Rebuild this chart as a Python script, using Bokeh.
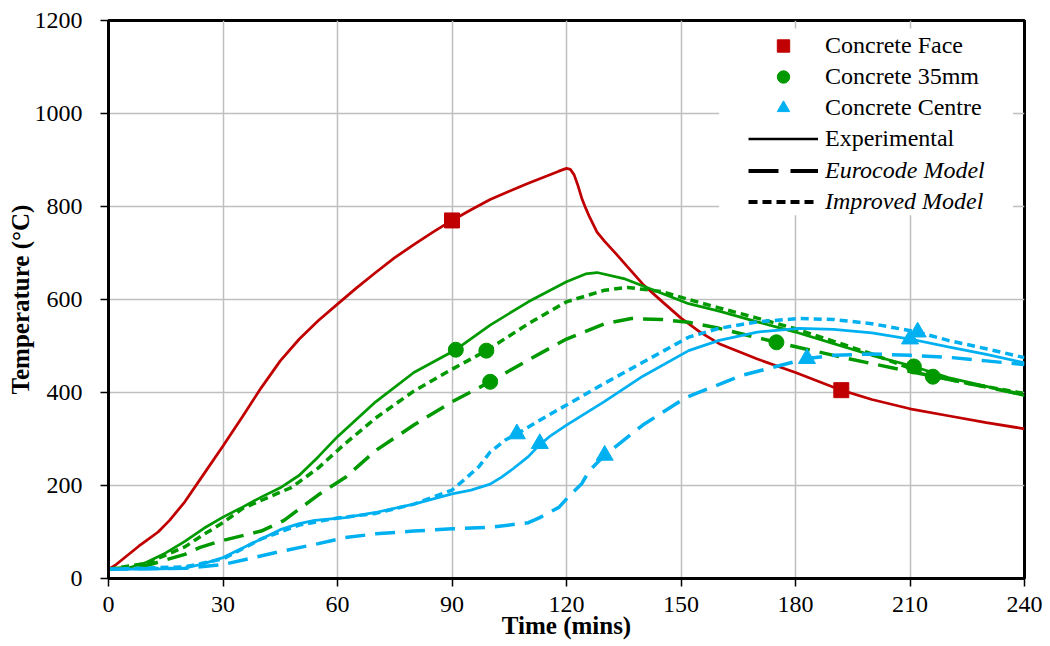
from bokeh.plotting import figure
from bokeh.models import Range1d, FixedTicker, Legend, LegendItem, ColumnDataSource, BoxAnnotation
from bokeh.embed import file_html
from bokeh.resources import INLINE

# ---------------- data ----------------
face_exp_t = [0, 2, 5, 8, 10, 13, 16, 20, 25, 30, 35, 40, 45, 50, 55, 60, 65, 70, 75, 80, 85, 90, 95, 100, 105, 110, 115, 118, 120, 121, 122, 123, 124, 125, 126, 128, 130, 133, 136, 140, 145, 150, 155, 160, 170, 180, 192, 200, 210, 220, 230, 240]
face_exp_y = [20, 30, 50, 70, 82, 100, 125, 165, 225, 285, 347, 410, 468, 515, 555, 590, 625, 658, 690, 718, 745, 770, 793, 815, 833, 850, 866, 876, 882, 880, 868, 845, 818, 797, 778, 745, 725, 698, 670, 633, 596, 560, 530, 505, 472, 443, 405, 385, 365, 350, 335, 322]

d35_exp_t = [0, 5, 10, 15, 20, 25, 30, 35, 40, 45, 50, 55, 60, 70, 80, 91, 100, 110, 120, 125, 128, 135, 152, 160, 170, 180, 190, 200, 211, 220, 230, 240]
d35_exp_y = [20, 22, 35, 55, 80, 108, 132, 153, 175, 195, 222, 262, 305, 380, 443, 492, 545, 595, 638, 655, 658, 645, 591, 575, 552, 530, 505, 480, 456, 432, 413, 393]

d35_ec_t = [0, 10, 20, 24, 30, 40, 46, 55, 62, 70, 80, 90, 100, 110, 120, 130, 137, 145, 152, 160, 170, 175, 192, 210, 225, 240]
d35_ec_y = [20, 28, 52, 67, 82, 102, 125, 180, 217, 275, 330, 380, 423, 470, 515, 548, 559, 557, 551, 538, 518, 508, 476, 445, 420, 395]

d35_imp_t = [0, 10, 20, 25, 30, 35, 42, 48, 55, 62, 70, 80, 90, 99, 110, 120, 130, 136, 145, 152, 160, 170, 180, 190, 200, 210, 216, 225, 240]
d35_imp_y = [20, 33, 68, 95, 120, 150, 175, 196, 238, 290, 345, 403, 450, 490, 548, 595, 620, 626, 617, 600, 582, 560, 537, 510, 483, 452, 436, 420, 398]

ctr_exp_t = [0, 10, 20, 25, 30, 35, 40, 45, 50, 54, 62, 70, 80, 90, 95, 100, 103, 106, 110, 113, 116, 120, 130, 140, 152, 160, 170, 181, 190, 200, 210, 220, 230, 240]
ctr_exp_y = [20, 20, 22, 32, 45, 65, 85, 105, 118, 125, 131, 142, 160, 182, 190, 203, 218, 236, 262, 288, 308, 330, 381, 435, 490, 512, 530, 538, 536, 528, 515, 498, 482, 464]

ctr_ec_t = [0, 20, 30, 37, 45, 55, 62, 70, 80, 90, 100, 110, 113, 118, 121, 124, 126, 130, 140, 151, 154, 166, 183, 190, 200, 210, 221, 230, 240]
ctr_ec_y = [20, 22, 30, 43, 58, 75, 88, 96, 102, 107, 110, 120, 131, 153, 180, 204, 232, 265, 330, 388, 398, 437, 473, 480, 483, 480, 475, 468, 460]

ctr_imp_t = [0, 20, 30, 40, 50, 60, 70, 80, 90, 93, 97, 100, 104, 107, 115, 120, 130, 140, 152, 160, 170, 181, 190, 200, 212, 220, 230, 240]
ctr_imp_y = [20, 25, 42, 85, 115, 130, 140, 160, 190, 211, 240, 272, 298, 311, 350, 373, 420, 465, 519, 538, 552, 559, 557, 548, 530, 512, 494, 475]

face_mark_t = [90, 192]
face_mark_y = [770, 405]
d35_mark_t = [91, 99, 100, 175, 211, 216]
d35_mark_y = [492, 490, 423, 508, 456, 434]
ctr_mark_t = [107, 113, 130, 183, 210, 212]
ctr_mark_y = [311, 290, 265, 473, 515, 530]

x_ticks = [0, 30, 60, 90, 120, 150, 180, 210, 240]
y_ticks = [0, 200, 400, 600, 800, 1000, 1200]

legend_marker_labels = ["Concrete Face", "Concrete 35mm", "Concrete Centre", "Experimental"]
legend_model_labels = ["Eurocode Model", "Improved Model"]

# ---------------- style ----------------
RED = "#C00000"
GREEN = "#009900"
BLUE = "#00B0F0"
FONT = "Liberation Serif"
EC_DASH = "20 10"
IMP_DASH = "8 5"

p = figure(width=1050, height=646, output_backend="svg", toolbar_location=None,
           x_range=Range1d(0, 240), y_range=Range1d(0, 1200))
p.min_border_left = 108
p.min_border_right = 26
p.min_border_top = 20
p.min_border_bottom = 68
p.background_fill_color = "white"
p.border_fill_color = "white"
p.outline_line_color = "black"
p.outline_line_width = 3

for ax in (p.xaxis[0], p.yaxis[0]):
    ax.axis_line_width = 3
    ax.axis_line_color = "black"
    ax.major_tick_line_color = "black"
    ax.major_tick_line_width = 1.5
    ax.major_tick_in = 0
    ax.major_tick_out = 8
    ax.minor_tick_line_color = None
    ax.major_label_text_font = FONT
    ax.major_label_text_font_size = "24px"
    ax.major_label_text_color = "black"
    ax.axis_label_text_font = FONT
    ax.axis_label_text_font_size = "25px"
    ax.axis_label_text_font_style = "bold"
    ax.axis_label_text_color = "black"

p.xaxis[0].ticker = FixedTicker(ticks=x_ticks)
p.yaxis[0].ticker = FixedTicker(ticks=y_ticks)
p.xaxis[0].axis_label = "Time (mins)"
p.yaxis[0].axis_label = "Temperature (°C)"
p.xaxis[0].major_label_standoff = 10
p.xaxis[0].axis_label_standoff = -3
p.yaxis[0].major_label_standoff = 18
p.yaxis[0].axis_label_standoff = -2

p.xgrid[0].ticker = FixedTicker(ticks=x_ticks)
p.ygrid[0].ticker = FixedTicker(ticks=y_ticks)
for g in (p.xgrid[0], p.ygrid[0]):
    g.grid_line_color = "#BFBFBF"
    g.grid_line_width = 1.5

# lines
p.line(face_exp_t, face_exp_y, color=RED, line_width=2.75)
p.line(d35_ec_t, d35_ec_y, color=GREEN, line_width=3.5, line_dash=EC_DASH)
p.line(d35_imp_t, d35_imp_y, color=GREEN, line_width=3.5, line_dash=IMP_DASH)
p.line(d35_exp_t, d35_exp_y, color=GREEN, line_width=2.75)
p.line(ctr_ec_t, ctr_ec_y, color=BLUE, line_width=3.5, line_dash=EC_DASH)
p.line(ctr_imp_t, ctr_imp_y, color=BLUE, line_width=3.5, line_dash=IMP_DASH)
p.line(ctr_exp_t, ctr_exp_y, color=BLUE, line_width=2.75)

# markers
r_sq = p.scatter(face_mark_t, face_mark_y, marker="square", size=15, color=RED)
r_ci = p.scatter(d35_mark_t, d35_mark_y, marker="circle", size=15, color=GREEN)
r_tr = p.scatter(ctr_mark_t, ctr_mark_y, marker="triangle", size=17, color=BLUE)

# legend proxies (nothing drawn in the plot area)
nan = float("nan")
proxy = ColumnDataSource(data=dict(x=[nan, nan], y=[nan, nan]))
r_exp = p.line("x", "y", source=proxy, color="black", line_width=2.5)
r_ec = p.line("x", "y", source=proxy, color="black", line_width=4, line_dash="30 12")
r_imp = p.line("x", "y", source=proxy, color="black", line_width=4, line_dash="9 5")

# white area behind legend
p.add_layout(BoxAnnotation(left=160, right=237, bottom=781, top=1183,
                           fill_color="white", fill_alpha=1, line_color=None))

def make_legend(items, loc, style):
    lg = Legend(items=items, location=loc)
    lg.label_text_font = FONT
    lg.label_text_font_size = "24px"
    lg.label_text_font_style = style
    lg.label_text_color = "black"
    lg.glyph_width = 70
    lg.glyph_height = 31
    lg.label_height = 31
    lg.label_standoff = 7
    lg.spacing = 0
    lg.padding = 0
    lg.margin = 0
    lg.border_line_color = None
    lg.background_fill_alpha = 0
    return lg

leg1 = make_legend([LegendItem(label=legend_marker_labels[0], renderers=[r_sq]),
                    LegendItem(label=legend_marker_labels[1], renderers=[r_ci]),
                    LegendItem(label=legend_marker_labels[2], renderers=[r_tr]),
                    LegendItem(label=legend_marker_labels[3], renderers=[r_exp])],
                   (640, 424), "normal")
leg2 = make_legend([LegendItem(label=legend_model_labels[0], renderers=[r_ec]),
                    LegendItem(label=legend_model_labels[1], renderers=[r_imp])],
                   (640, 361), "italic")
p.add_layout(leg1, "center")
p.add_layout(leg2, "center")

open("out.html", "w").write(file_html(p, INLINE))
